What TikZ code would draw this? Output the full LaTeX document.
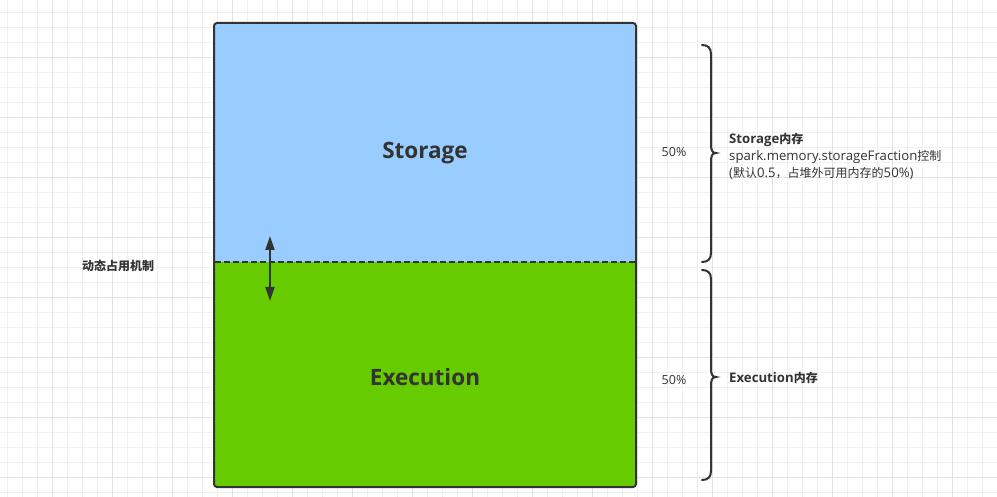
\documentclass[tikz,border=0pt]{standalone}
\usepackage{fontspec}
\setmainfont{Noto Sans CJK SC}
\newfontfamily\latf{Open Sans}
\newcommand\latseg[1]{{\fontsize{13.2}{17}\selectfont\latf #1}}
\usetikzlibrary{arrows.meta}
\definecolor{ink}{HTML}{333333}
\definecolor{stblue}{HTML}{99CCFF}
\definecolor{exgreen}{HTML}{66CC00}
\definecolor{gridminor}{HTML}{F0F0F0}
\definecolor{gridmajor}{HTML}{E2E2E2}
\tikzset{
  memblock/.style={draw=ink, line width=2pt, rounded corners=3pt},
  bigtext/.style={font=\fontsize{22.5}{25}\selectfont\latf\bfseries, text=ink, anchor=base},
  smalltext/.style={font=\fontsize{12}{17}\selectfont, text=ink, inner sep=0pt},
  bracepath/.style={draw=ink, line width=2pt, line cap=round},
  dynarrow/.style={draw=ink, line width=2pt, {Triangle[length=14pt,width=9pt]}-{Triangle[length=14pt,width=9pt]}},
}
\begin{document}
\begin{tikzpicture}[x=1pt,y=-1pt]
\useasboundingbox (0,0) rectangle (997,497);
% grid
\foreach \k in {0,...,66} {
  \draw[gridminor, line width=1pt] ({7.3+15*\k},0) -- ({7.3+15*\k},497);
}
\foreach \k in {0,...,32} {
  \draw[gridminor, line width=1pt] (0,{12.3+15*\k}) -- (997,{12.3+15*\k});
}
\foreach \k in {0,...,16} {
  \draw[gridmajor, line width=1pt] ({52.3+60*\k},0) -- ({52.3+60*\k},497);
}
\foreach \k in {0,...,7} {
  \draw[gridmajor, line width=1pt] (0,{57.3+60*\k}) -- (997,{57.3+60*\k});
}
% blocks
\fill[stblue, rounded corners=3pt] (214,23) -- (636,23) -- (636,262) [sharp corners] -- (214,262) [rounded corners=3pt] -- cycle;
\fill[exgreen, rounded corners=3pt] (214,262) [sharp corners] -- (636,262) [rounded corners=3pt] -- (636,487) -- (214,487) -- cycle;
\draw[memblock] (214,23) rectangle (636,487);
\draw[ink, line width=2pt, dash pattern=on 6pt off 3pt] (215,262) -- (635,262);
\node[bigtext] (storage) at (425,159) {Storage};
\node[bigtext] (execution) at (425,385) {Execution};
% arrow
\coordinate (arrtop) at (270,236);
\coordinate (arrbot) at (270,301);
\draw[dynarrow] (arrtop) -- (arrbot);
\node[smalltext, font=\fontsize{12}{17}\selectfont\bfseries, anchor=west] (dyn) at (82,266) {动态占用机制};
% braces
\draw[bracepath] (702,45) .. controls (708,45) and (711,48) .. (711,54) -- (711,144)
  .. controls (711,150) and (712,153) .. (716,153)
  .. controls (712,153) and (711,156) .. (711,162) -- (711,253)
  .. controls (711,259) and (708,262) .. (702,262);
\draw[bracepath] (702,270) .. controls (708,270) and (711,273) .. (711,279) -- (711,368)
  .. controls (711,374) and (712,377) .. (716,377)
  .. controls (712,377) and (711,380) .. (711,386) -- (711,471)
  .. controls (711,477) and (708,480) .. (702,480);
% labels
\node[smalltext] (pcttop) at (674,152) {{\fontsize{12.5}{17}\selectfont\latf 50\%}};
\node[smalltext] (pctbot) at (674,380) {{\fontsize{12.5}{17}\selectfont\latf 50\%}};
\node[smalltext, anchor=west, align=left] (stlabel) at (729,156)
  {\latseg{\bfseries Storage}\textbf{内存}\\\latseg{spark.memory.storageFraction}控制\\\latseg{(}默认\latseg{0.5}，占堆外可用内存的\latseg{50\%)}};
\node[smalltext, anchor=west] (exlabel) at (729,378) {\latseg{\bfseries Execution}\textbf{内存}};
\end{tikzpicture}
\end{document}
